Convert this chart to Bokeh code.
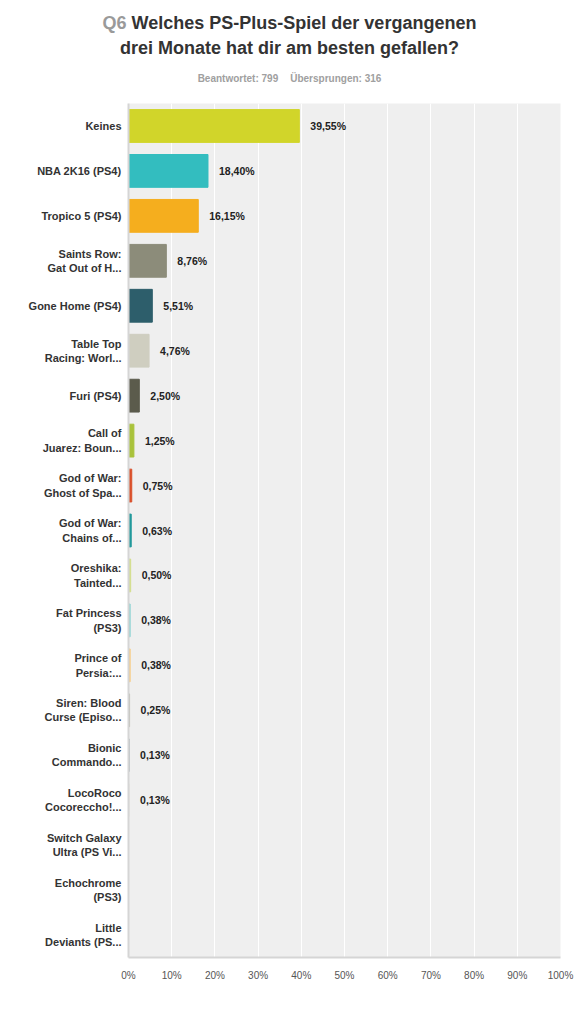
from bokeh.plotting import figure
from bokeh.layouts import column
from bokeh.models import ColumnDataSource, FactorRange, Range1d, FixedTicker, CustomJSTickFormatter, Div
from bokeh.core.properties import value
from bokeh.embed import file_html
from bokeh.resources import INLINE

categories = [
    "Keines", "NBA 2K16 (PS4)", "Tropico 5 (PS4)", "Saints Row:\nGat Out of H...",
    "Gone Home (PS4)", "Table Top\nRacing: Worl...", "Furi (PS4)", "Call of\nJuarez: Boun...",
    "God of War:\nGhost of Spa...", "God of War:\nChains of...", "Oreshika:\nTainted...",
    "Fat Princess\n(PS3)", "Prince of\nPersia:...", "Siren: Blood\nCurse (Episo...",
    "Bionic\nCommando...", "LocoRoco\nCocoreccho!...", "Switch Galaxy\nUltra (PS Vi...",
    "Echochrome\n(PS3)", "Little\nDeviants (PS...",
]
values = [39.55, 18.40, 16.15, 8.76, 5.51, 4.76, 2.50, 1.25, 0.75, 0.63, 0.50,
          0.38, 0.38, 0.25, 0.13, 0.13, 0.0, 0.0, 0.0]
value_labels = ["39,55%", "18,40%", "16,15%", "8,76%", "5,51%", "4,76%", "2,50%", "1,25%",
                "0,75%", "0,63%", "0,50%", "0,38%", "0,38%", "0,25%", "0,13%", "0,13%", "", "", ""]
colors = ["#D1D52A", "#33BDBF", "#F5AE1E", "#8C8C7A", "#2D5E6B", "#CFCEC0", "#5B5B4C",
          "#A9C23B", "#D9502B", "#22999C", "#D3DE8C", "#8DD3D3", "#F7CB82", "#B9B9AF",
          "#8C9CA3", "#E3E2D9", "#CCCCCC", "#CCCCCC", "#CCCCCC"]
x_ticks = [0, 10, 20, 30, 40, 50, 60, 70, 80, 90, 100]

title_prefix = "Q6"
title_line1 = "Welches PS-Plus-Spiel der vergangenen"
title_line2 = "drei Monate hat dir am besten gefallen?"
answered = "Beantwortet: 799"
skipped = "Übersprungen: 316"

source = ColumnDataSource(dict(cat=categories, val=values, lab=value_labels, col=colors))

W = 577
LEFT, RIGHT = 128, 17

header_html = (
    '<div style="width:567px;padding:11px 0 0 12px;margin:0;text-align:center;'
    'font-family:\'Liberation Sans\',Arial,sans-serif;font-weight:bold;">'
    '<div style="font-size:18px;line-height:25px;color:#333333;">'
    f'<span style="color:#9A9A9A;">{title_prefix}</span> {title_line1}<br>{title_line2}</div>'
    '<div style="font-size:10px;line-height:12px;color:#A0A0A0;margin-top:12px;">'
    f'{answered}<span style="display:inline-block;width:12px;"></span>{skipped}</div>'
    '</div>'
)
header = Div(text=header_html, width=W, height=95, margin=(0, 0, 0, 0))

# ---- main chart
p = figure(width=W, height=913, output_backend="svg", toolbar_location=None,
           y_range=FactorRange(*reversed(categories), range_padding=0),
           x_range=Range1d(0, 100),
           min_border_left=LEFT, min_border_right=RIGHT, min_border_top=8, min_border_bottom=51)

p.background_fill_color = "#EFEFEF"
p.border_fill_color = "white"
p.outline_line_color = None

p.hbar(y="cat", right="val", left=0, height=0.73, color="col", source=source)
p.text(x="val", y="cat", text="lab", source=source, x_offset=11,
       text_align="left", text_baseline="middle", text_font=value("Liberation Sans"),
       text_font_style="bold", text_font_size="10.5px", text_color="#222222")

p.xaxis.ticker = FixedTicker(ticks=x_ticks)
p.xaxis.formatter = CustomJSTickFormatter(code="return tick + '%';")
p.xaxis.major_tick_line_color = None
p.xaxis.minor_tick_line_color = None
p.xaxis.axis_line_color = "#D5D5D5"
p.xaxis.axis_line_width = 2
p.xaxis.major_label_text_font = "Liberation Sans"
p.xaxis.major_label_text_font_size = "10px"
p.xaxis.major_label_text_color = "#555555"
p.xaxis.major_label_standoff = 6

p.yaxis.major_tick_line_color = None
p.yaxis.minor_tick_line_color = None
p.yaxis.axis_line_color = "#D5D5D5"
p.yaxis.axis_line_width = 2
p.yaxis.major_label_text_font = "Liberation Sans"
p.yaxis.major_label_text_font_style = "bold"
p.yaxis.major_label_text_font_size = "11px"
p.yaxis.major_label_text_color = "#333333"
p.yaxis.major_label_standoff = 1

p.xgrid.ticker = FixedTicker(ticks=x_ticks)
p.xgrid.grid_line_color = "white"
p.xgrid.grid_line_width = 1
p.ygrid.grid_line_color = None

layout = column(header, p, spacing=0)
open("out.html", "w").write(file_html(layout, INLINE))
